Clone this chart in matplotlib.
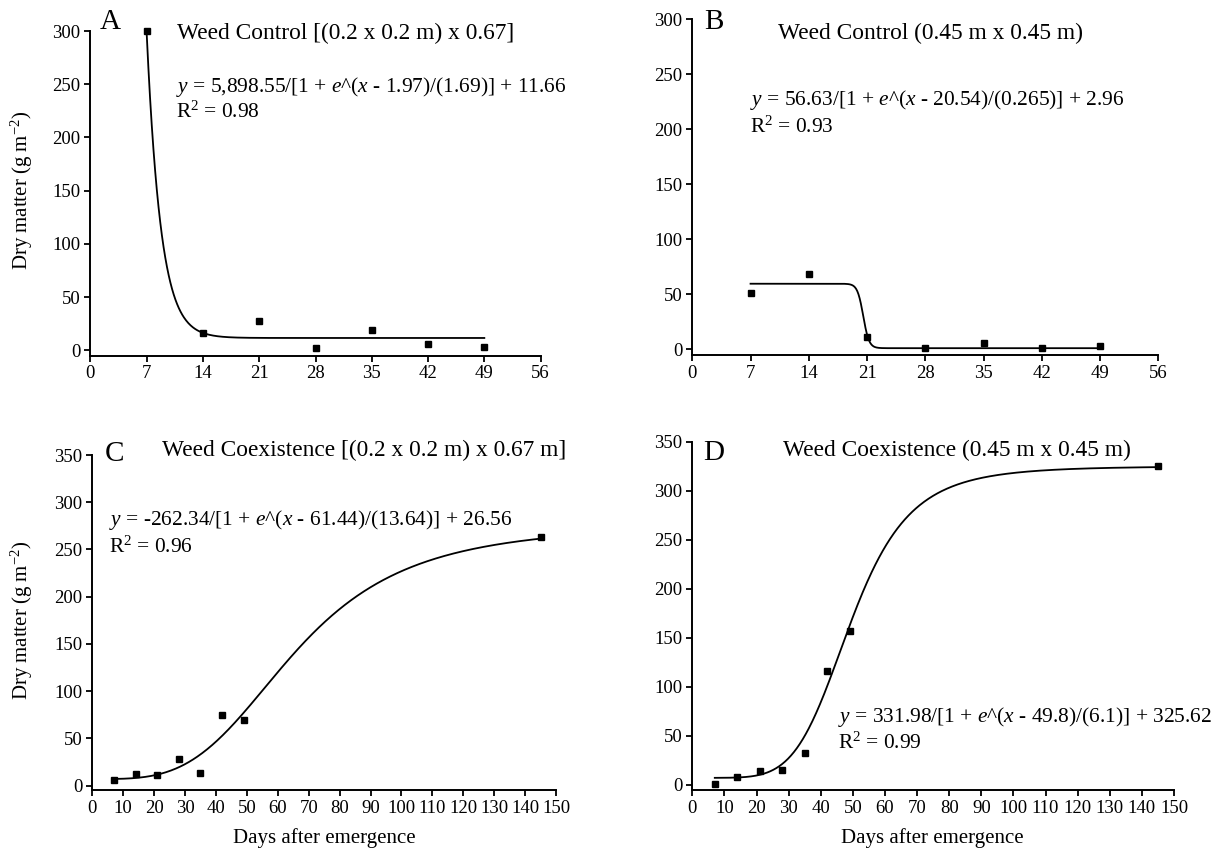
import numpy as np
import matplotlib
matplotlib.use("Agg")
import matplotlib.pyplot as plt

plt.rcParams['font.family'] = ['Liberation Serif', 'DejaVu Serif']
plt.rcParams['mathtext.fontset'] = 'custom'
plt.rcParams['mathtext.rm'] = 'Liberation Serif'
plt.rcParams['mathtext.it'] = 'Liberation Serif:italic'
plt.rcParams['mathtext.bf'] = 'Liberation Serif:bold'

# ---------------- data ----------------
days_ab = [7, 14, 21, 28, 35, 42, 49]
days_cd = [7, 14, 21, 28, 35, 42, 49, 145]

dm_a = [300, 16, 28, 2, 19, 6, 3]
dm_b = [51, 68, 11.5, 1, 6, 1, 3]
dm_c = [6, 12.4, 11.3, 27.9, 13.1, 74.5, 69.2, 263]
dm_d = [1, 8.2, 13.9, 15.3, 32.7, 116.3, 156.5, 325.6]

fit_a = dict(kind='sig', a=5898.55, x0=1.97, b=1.69, c=11.66)
fit_b = dict(kind='sig', a=58.6, x0=20.54, b=0.35, c=1.0)
fit_c = dict(kind='loglog', a=270.0, x0=65.8, p=3.54, c=7.0)
fit_d = dict(kind='loglog', a=318.0, x0=49.4, p=5.4, c=7.0)

titles = ["Weed Control [(0.2 x 0.2 m) x 0.67]",
          "Weed Control (0.45 m x 0.45 m)",
          "Weed Coexistence [(0.2 x 0.2 m) x 0.67 m]",
          "Weed Coexistence (0.45 m x 0.45 m)"]
letters = ["A", "B", "C", "D"]
equations = [r"$\mathit{y}$ = 5,898.55/[1 + $\mathit{e}$^($\mathit{x}$ - 1.97)/(1.69)] + 11.66",
             r"$\mathit{y}$ = 56.63/[1 + $\mathit{e}$^($\mathit{x}$ - 20.54)/(0.265)] + 2.96",
             r"$\mathit{y}$ = -262.34/[1 + $\mathit{e}$^($\mathit{x}$ - 61.44)/(13.64)] + 26.56",
             r"$\mathit{y}$ = 331.98/[1 + $\mathit{e}$^($\mathit{x}$ - 49.8)/(6.1)] + 325.62"]
r2 = [r"R$^{2}$ = 0.98", r"R$^{2}$ = 0.93", r"R$^{2}$ = 0.96", r"R$^{2}$ = 0.99"]
ylabel = r"Dry matter (g m$^{-2}$)"
xlabel = "Days after emergence"
xticks_ab = [0, 7, 14, 21, 28, 35, 42, 49, 56]
xticks_cd = list(range(0, 151, 10))
yticks_ab = list(range(0, 301, 50))
yticks_cd = list(range(0, 351, 50))


def curve(fit, x):
    if fit['kind'] == 'sig':
        return fit['c'] + fit['a'] / (1 + np.exp((x - fit['x0']) / fit['b']))
    return fit['c'] + fit['a'] / (1 + (fit['x0'] / x) ** fit['p'])


W, H = 1218, 856
fig = plt.figure(figsize=(W / 100, H / 100), dpi=100)


def add_ax(left, right, bottom, top):
    return fig.add_axes([left / W, 1 - bottom / H, (right - left) / W, (bottom - top) / H])


def ftext(x, y, s, **kw):
    fig.text(x / W, 1 - y / H, s, **kw)


specs = [
    (90.4, 540.6, 355.5, 31.0, -4.8, 300, days_ab, dm_a, fit_a, 56, xticks_ab, yticks_ab),
    (692.3, 1158.3, 355.0, 19.3, -5.2, 300, days_ab, dm_b, fit_b, 56, xticks_ab, yticks_ab),
    (92.3, 556.0, 790.0, 455.0, -4.6, 350, days_cd, dm_c, fit_c, 150, xticks_cd, yticks_cd),
    (692.3, 1174.0, 790.0, 441.7, -5.4, 350, days_cd, dm_d, fit_d, 150, xticks_cd, yticks_cd),
]

for (l, r, b, t, ylo, ymax, xd, yd, fit, xmax, xt, yt) in specs:
    ax = add_ax(l, r, b, t)
    ax.set_xlim(0, xmax)
    ax.set_ylim(ylo, ymax)
    xs = np.linspace(min(xd), max(xd), 600)
    ax.plot(xs, curve(fit, xs), color='black', lw=1.3, clip_on=False, zorder=2)
    ax.plot(xd, yd, ls='none', marker='s', ms=5, color='black', clip_on=False, zorder=3)
    ax.set_xticks(xt)
    ax.set_yticks(yt)
    for s in ['top', 'right']:
        ax.spines[s].set_visible(False)
    for s in ['left', 'bottom']:
        ax.spines[s].set_linewidth(1.4)
    ax.tick_params(axis='both', direction='out', length=4, width=1.3,
                   labelsize=13.5, pad=3, colors='black')
    ax.patch.set_alpha(0)

TS, ES, LS = 16.8, 15.4, 21

ftext(110, 22, "A", fontsize=LS, ha='center', va='center')
ftext(177, 33, titles[0], fontsize=TS, ha='left', va='center')
ftext(176, 87, equations[0], fontsize=ES, ha='left', va='center')
ftext(176, 112, r2[0], fontsize=ES, ha='left', va='center')

ftext(714, 22, "B", fontsize=LS, ha='center', va='center')
ftext(778, 33, titles[1], fontsize=TS, ha='left', va='center')
ftext(750, 100, equations[1], fontsize=ES, ha='left', va='center')
ftext(750, 127, r2[1], fontsize=ES, ha='left', va='center')

ftext(114, 454, "C", fontsize=LS, ha='center', va='center')
ftext(162, 450, titles[2], fontsize=TS, ha='left', va='center')
ftext(109, 520, equations[2], fontsize=ES, ha='left', va='center')
ftext(109, 547, r2[2], fontsize=ES, ha='left', va='center')

ftext(714, 453, "D", fontsize=LS, ha='center', va='center')
ftext(783, 450, titles[3], fontsize=TS, ha='left', va='center')
ftext(838, 717, equations[3], fontsize=ES, ha='left', va='center')
ftext(838, 743, r2[3], fontsize=ES, ha='left', va='center')

ftext(22, 190, ylabel, fontsize=15, rotation=90, ha='center', va='center')
ftext(22, 620, ylabel, fontsize=15, rotation=90, ha='center', va='center')
ftext(324, 838, xlabel, fontsize=15, ha='center', va='center')
ftext(932, 838, xlabel, fontsize=15, ha='center', va='center')

fig.savefig("out.png", dpi=100, facecolor='white')
